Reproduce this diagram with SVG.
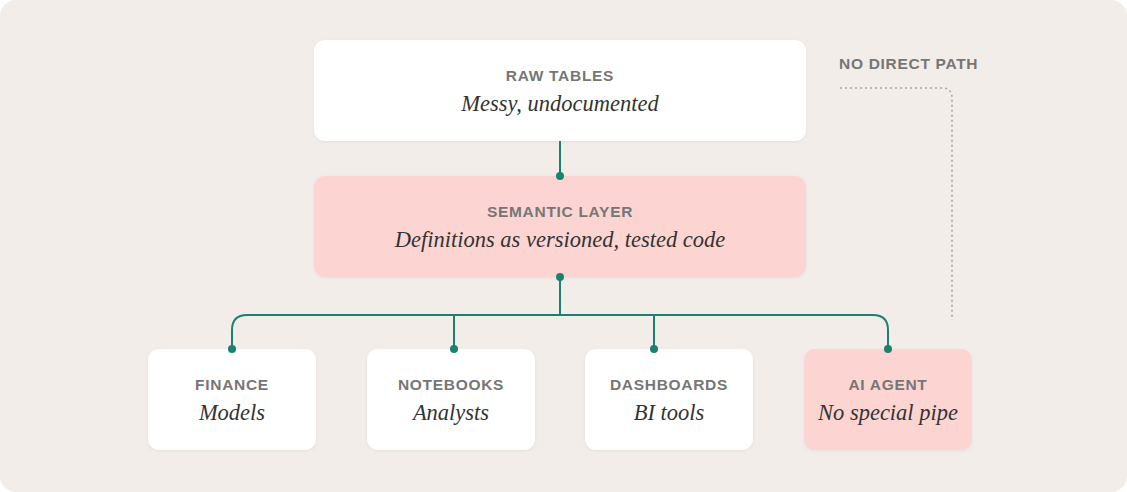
<svg xmlns="http://www.w3.org/2000/svg" width="1127" height="492" viewBox="0 0 1127 492">
<defs>
<filter id="sh" x="-10%" y="-10%" width="120%" height="130%">
<feDropShadow dx="0" dy="1" stdDeviation="1.5" flood-color="#8a7a70" flood-opacity="0.12"/>
</filter>
<style>
.box{fill:#ffffff;filter:url(#sh);}
.pink{fill:#fcd5d2;filter:url(#sh);}
.t{font-family:"Liberation Sans",Arial,sans-serif;font-weight:bold;font-size:15.5px;fill:#767676;text-anchor:middle;letter-spacing:0.7px;}
.s{font-family:"Liberation Serif","Times New Roman",serif;font-style:italic;font-size:22.5px;fill:#333333;text-anchor:middle;}
.c{fill:none;stroke:#1a8270;stroke-width:2;}
.d{fill:#1a8270;}
.dot{fill:none;stroke:#a8a5a2;stroke-width:1.6;stroke-dasharray:2 3;}
</style>
</defs>
<rect x="0" y="0" width="1127" height="492" rx="16" fill="#f2ede9"/>
<g id="no-direct-path">
<text x="839" y="69" class="t" style="text-anchor:start">NO DIRECT PATH</text>
</g>
<g id="raw-tables">
<rect class="box" x="314" y="40" width="492" height="101" rx="11"/>
<text class="t" x="560" y="81">RAW TABLES</text>
<text class="s" x="560" y="111">Messy, undocumented</text>
</g>
<g id="semantic-layer">
<rect class="pink" x="314" y="176" width="492" height="101" rx="11"/>
<text class="t" x="560" y="217">SEMANTIC LAYER</text>
<text class="s" x="560" y="247">Definitions as versioned, tested code</text>
</g>
<g id="finance">
<rect class="box" x="148" y="349" width="168" height="101" rx="11"/>
<text class="t" x="232" y="390">FINANCE</text>
<text class="s" x="232" y="420">Models</text>
</g>
<g id="notebooks">
<rect class="box" x="367" y="349" width="168" height="101" rx="11"/>
<text class="t" x="451" y="390">NOTEBOOKS</text>
<text class="s" x="451" y="420">Analysts</text>
</g>
<g id="dashboards">
<rect class="box" x="585" y="349" width="168" height="101" rx="11"/>
<text class="t" x="669" y="390">DASHBOARDS</text>
<text class="s" x="669" y="420">BI tools</text>
</g>
<g id="ai-agent">
<rect class="pink" x="804" y="349" width="168" height="101" rx="11"/>
<text class="t" x="888" y="390">AI AGENT</text>
<text class="s" x="888" y="420">No special pipe</text>
</g>
<g id="connectors">
<path class="c" d="M560 141 V176"/>
<path class="c" d="M560 277 V315"/>
<path class="c" d="M232 349 V330 Q232 315 247 315 H873 Q888 315 888 330 V349"/>
<path class="c" d="M454 315 V349"/>
<path class="c" d="M654 315 V349"/>
<circle class="d" cx="560" cy="176" r="4"/>
<circle class="d" cx="560" cy="277" r="4"/>
<circle class="d" cx="232" cy="349" r="4"/>
<circle class="d" cx="454" cy="349" r="4"/>
<circle class="d" cx="654" cy="349" r="4"/>
<circle class="d" cx="888" cy="349" r="4"/>
<path class="dot" d="M840 88 H942 Q952 88 952 98 V320"/>
</g>
</svg>
